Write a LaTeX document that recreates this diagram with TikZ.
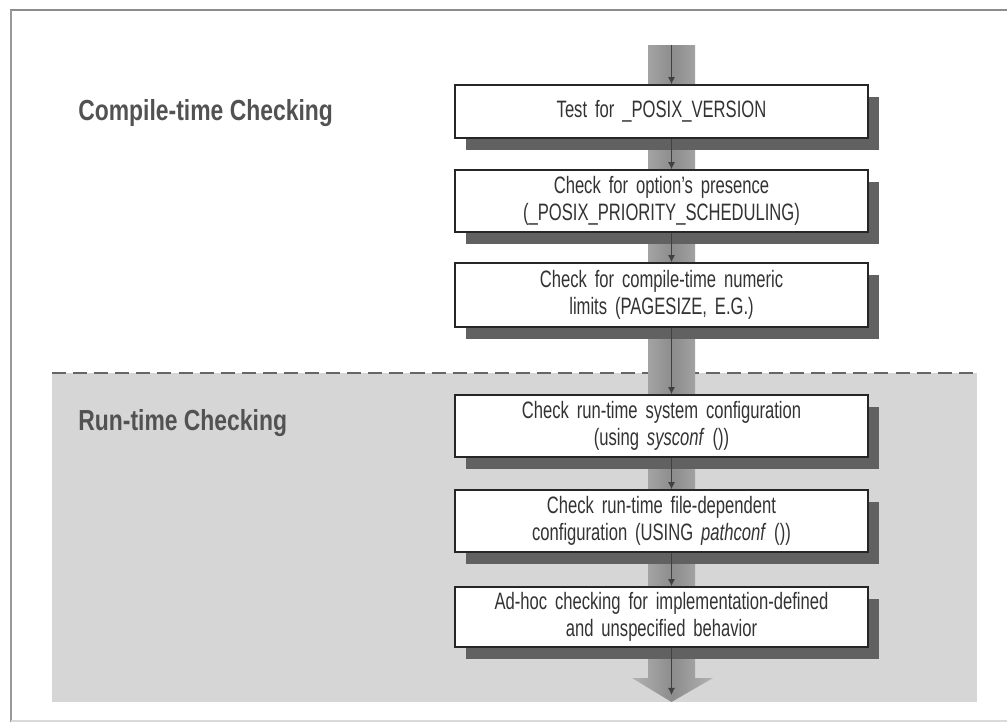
\documentclass[tikz,border=0pt]{standalone}
\usepackage{fontspec}
\setmainfont{Liberation Sans}[FakeStretch=0.7]
\newfontfamily\phasefont{Liberation Sans}[FakeStretch=0.79]
\usetikzlibrary{shadows,arrows.meta}
\begin{document}
\begin{tikzpicture}[
  stepbox/.style={draw=black!85,line width=0.9pt,fill=white,minimum width=8.26cm,
    text width=8cm,align=center,inner sep=0pt,text=black!80,
    font=\fontsize{13.5}{15}\selectfont,
    drop shadow={shadow xshift=0.22cm,shadow yshift=-0.24cm,fill=black!62,opacity=1}},
  phase/.style={anchor=west,inner sep=0pt,text=black!68,font=\phasefont\fontsize{16.5}{18}\selectfont\bfseries},
  flow/.style={draw=black!75,line width=0.7pt,-{Latex[length=4pt,width=4pt]}}]

\useasboundingbox (0,0) rectangle (20.14,-14.52);
\draw [black!45,line width=1.4pt](0.2,-0.2) -- (20.14,-0.2);
\draw [black!40,line width=1.4pt](0.22,-0.2) -- (0.22,-14.44);
\draw [black!15,line width=0.8pt](0.22,-14.42) -- (20.14,-14.42);

\fill [black!16] (1.04,-7.46) rectangle (19.54,-14.04);
\draw [dashed,black!60,line width=1.2pt,dash pattern=on 8pt off 4pt](1.04,-7.46) -- (19.54,-7.46);

\shade [left color=black!30,right color=black!30,middle color=black!45]
  (12.96,-0.9) -- (13.9,-0.9) -- (13.9,-13.56) -- (14.26,-13.56) -- (13.43,-14.04)
  -- (12.64,-13.56) -- (12.96,-13.56) -- cycle;

\node [phase] (ct) at (1.56,-2.26) {Compile-time Checking};
\node [phase] (rt) at (1.56,-8.46) {Run-time Checking};

\node [stepbox,minimum height=1.06cm] (b1) at (13.23,-2.23) {Test for \_POSIX\_VERSION};
\node [stepbox,minimum height=1.24cm] (b2) at (13.23,-4.02) {Check for option's presence\\(\_POSIX\_PRIORITY\_SCHEDULING)};
\node [stepbox,minimum height=1.28cm] (b3) at (13.23,-5.9) {Check for compile-time numeric\\limits (PAGESIZE, E.G.)};
\node [stepbox,minimum height=1.24cm] (b4) at (13.23,-8.52) {Check run-time system configuration\\(using \textit{sysconf} ())};
\node [stepbox,minimum height=1.24cm] (b5) at (13.23,-10.42) {Check run-time file-dependent\\configuration (USING \textit{pathconf} ())};
\node [stepbox,minimum height=1.2cm] (b6) at (13.23,-12.34) {Ad-hoc checking for implementation-defined\\and unspecified behavior};

\coordinate (top) at (13.43,-0.9);
\coordinate (tip) at (13.43,-13.9);
\draw [flow](top) -- (b1.north -| top);
\draw [flow](b1.south -| top) -- (b2.north -| top);
\draw [flow](b2.south -| top) -- (b3.north -| top);
\draw [flow](b3.south -| top) -- (b4.north -| top);
\draw [flow](b4.south -| top) -- (b5.north -| top);
\draw [flow](b5.south -| top) -- (b6.north -| top);
\draw [flow](b6.south -| top) -- (tip);
\end{tikzpicture}
\end{document}
